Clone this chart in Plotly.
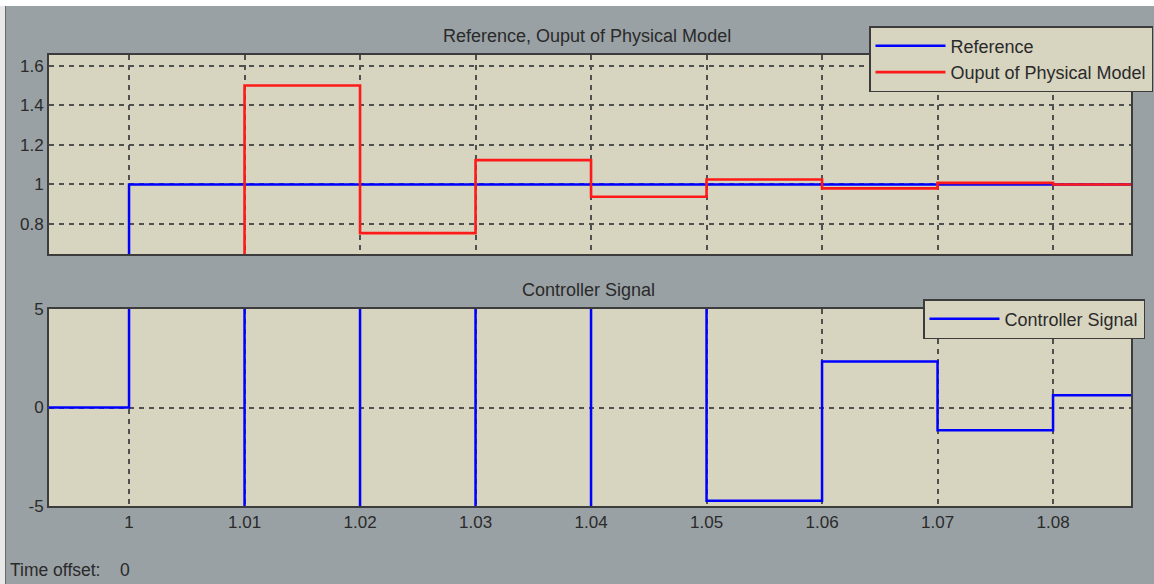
import plotly.graph_objects as go

# ---- data ----
t_ref = [0.99, 1.00, 1.09]
ref_vals = [0.0, 1.0, 1.0]

t_out = [0.99, 1.01, 1.02, 1.03, 1.04, 1.05, 1.06, 1.07, 1.08, 1.09]
out_vals = [0.0, 1.50, 0.754, 1.123, 0.938, 1.025, 0.98, 1.008, 1.0, 1.0]

t_ctrl = [0.99, 1.00, 1.01, 1.02, 1.03, 1.04, 1.05, 1.06, 1.07, 1.08, 1.09]
ctrl_vals = [0.0, 40.0, -30.0, 20.0, -12.0, 8.0, -4.73, 2.33, -1.16, 0.62, 0.62]

x_ticks = [1.00, 1.01, 1.02, 1.03, 1.04, 1.05, 1.06, 1.07, 1.08]
x_ticklabels = ["1", "1.01", "1.02", "1.03", "1.04", "1.05", "1.06", "1.07", "1.08"]
y1_ticks = [0.8, 1.0, 1.2, 1.4, 1.6]
y1_ticklabels = ["0.8", "1", "1.2", "1.4", "1.6"]
y2_ticks = [-5, 0, 5]
y2_ticklabels = ["-5", "0", "5"]

title_top = "Reference, Ouput of Physical Model"
title_bottom = "Controller Signal"

# ---- style ----
PAPER = "#99a1a4"
PLOT = "#d7d4c0"
DARK = "#3c3c3c"
GRID = "#505050"
TXT = "#2a2a2a"
FONT = "Liberation Sans"

W, H = 1154, 584
ml, mr, mt, mb = 49, 23, 55, 78
pw, ph = W - ml - mr, H - mt - mb


def px_x(px):
    return (px - ml) / pw


def px_y(py):
    return (H - mb - py) / ph


fig = go.Figure()
fig.add_trace(go.Scatter(x=t_ref, y=ref_vals, mode="lines", line=dict(color="#0000ff", width=2.5, shape="hv"),
                         name="Reference", xaxis="x", yaxis="y", legend="legend"))
fig.add_trace(go.Scatter(x=t_out, y=out_vals, mode="lines", line=dict(color="#ff1a1a", width=2.6, shape="hv"),
                         name="Ouput of Physical Model", xaxis="x", yaxis="y", legend="legend"))
fig.add_trace(go.Scatter(x=t_ctrl, y=ctrl_vals, mode="lines", line=dict(color="#0000ff", width=2.5, shape="hv"),
                         name="Controller Signal", xaxis="x2", yaxis="y2", legend="legend2"))

top_dom = [px_y(254), 1.0]
bot_dom = [0.0, px_y(309)]

xrange = [0.99307, 1.08675]
common_x = dict(range=xrange, tickvals=x_ticks, ticktext=x_ticklabels, showgrid=True,
                gridcolor=GRID, griddash="5px,5px", gridwidth=1.6, showline=True, mirror=True,
                linecolor=DARK, linewidth=2, zeroline=False, ticks="",
                tickfont=dict(family=FONT, size=17, color=TXT))
common_y = dict(showgrid=True, gridcolor=GRID, griddash="5px,5px", gridwidth=1.6, showline=True,
                mirror=True, linecolor=DARK, linewidth=2, zeroline=False, ticks="",
                tickfont=dict(family=FONT, size=17, color=TXT))

fig.update_layout(
    width=W, height=H,
    margin=dict(l=ml, r=mr, t=mt, b=mb, autoexpand=False),
    paper_bgcolor=PAPER, plot_bgcolor=PLOT,
    font=dict(family=FONT, size=17, color=TXT),
    xaxis=dict(common_x, domain=[0, 1], anchor="y", showticklabels=False, matches="x2"),
    yaxis=dict(common_y, domain=top_dom, anchor="x", range=[0.6485, 1.654],
               tickvals=y1_ticks, ticktext=y1_ticklabels),
    xaxis2=dict(common_x, domain=[0, 1], anchor="y2"),
    yaxis2=dict(common_y, domain=bot_dom, anchor="x2", range=[-5, 5],
                tickvals=y2_ticks, ticktext=y2_ticklabels),
    legend=dict(x=px_x(1153), y=px_y(26), xanchor="right", yanchor="top", bgcolor=PLOT,
                bordercolor=DARK, borderwidth=1.5, font=dict(family=FONT, size=18, color=TXT),
                itemwidth=70),
    legend2=dict(x=px_x(1145), y=px_y(299), xanchor="right", yanchor="top", bgcolor=PLOT,
                 bordercolor=DARK, borderwidth=1.5, font=dict(family=FONT, size=18, color=TXT),
                 itemwidth=70),
    showlegend=True,
)

fig.add_annotation(text=title_top, x=px_x(587), y=px_y(36), xref="paper", yref="paper",
                   showarrow=False, font=dict(family=FONT, size=18, color=TXT),
                   xanchor="center", yanchor="middle")
fig.add_annotation(text=title_bottom, x=px_x(588), y=px_y(290), xref="paper", yref="paper",
                   showarrow=False, font=dict(family=FONT, size=18, color=TXT),
                   xanchor="center", yanchor="middle")
fig.add_annotation(text="Time offset:&nbsp;&nbsp;&nbsp;&nbsp;0", x=px_x(8), y=px_y(570), xref="paper",
                   yref="paper", showarrow=False, font=dict(family=FONT, size=17.5, color=TXT),
                   xanchor="left", yanchor="middle")

# window frame: top white strip, left light strip with dark edge
fig.add_shape(type="rect", xref="paper", yref="paper", x0=px_x(0), x1=px_x(W), y0=px_y(6), y1=px_y(0),
              fillcolor="#ffffff", line_width=0, layer="below")
fig.add_shape(type="rect", xref="paper", yref="paper", x0=px_x(0), x1=px_x(5), y0=px_y(H), y1=px_y(6),
              fillcolor="#e8e8e8", line_width=0, layer="below")
fig.add_shape(type="line", xref="paper", yref="paper", x0=px_x(5.5), x1=px_x(5.5), y0=px_y(H), y1=px_y(6),
              line=dict(color="#6a6a6a", width=1), layer="below")

fig.write_html("out.html")
